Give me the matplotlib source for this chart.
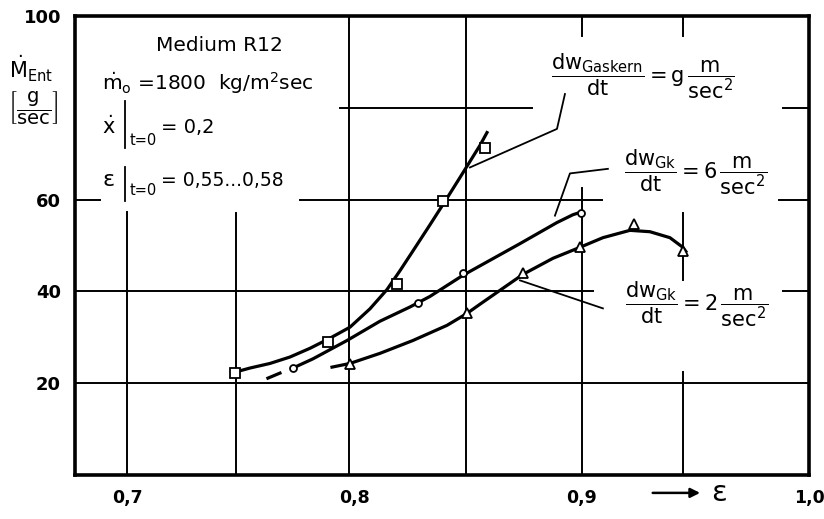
import numpy as np
import matplotlib.pyplot as plt

plt.rcParams['font.family'] = 'DejaVu Sans'
plt.rcParams['mathtext.fontset'] = 'dejavusans'
plt.rcParams['mathtext.default'] = 'regular'

# measured points: void fraction eps vs. entrained mass flow (g/sec)
eps_g = [0.7474, 0.7883, 0.8187, 0.8389, 0.8574]
m_g = [22.2, 28.9, 41.7, 59.8, 71.3]
eps_6 = [0.7729, 0.8279, 0.8477, 0.8996]
m_6 = [23.3, 37.4, 43.9, 57.0]
eps_2 = [0.7980, 0.8495, 0.8741, 0.8992, 0.9230, 0.9445]
m_2 = [24.1, 35.4, 44.1, 49.6, 54.6, 48.9]

# hand-drawn fit curves through the points
curve_g_eps = [0.7474, 0.7540, 0.7628, 0.7716, 0.7804, 0.7892, 0.7980, 0.8068, 0.8143,
               0.8200, 0.8257, 0.8332, 0.8407, 0.8464, 0.8508, 0.8552, 0.8583]
curve_g_m = [22.4, 23.3, 24.3, 25.7, 27.6, 29.8, 32.2, 36.2, 40.4,
             44.5, 48.8, 54.5, 60.3, 64.8, 68.3, 71.8, 74.6]
curve_6_eps = [0.7619, 0.7672, np.nan, 0.7729, 0.7817, 0.7967, 0.8112, 0.8244,
               0.8332, 0.8477, 0.8728, 0.8891, 0.8961, 0.8992]
curve_6_m = [21.1, 22.2, np.nan, 23.3, 25.3, 29.3, 33.5, 36.6,
             38.9, 43.5, 50.4, 55.0, 56.7, 57.2]
curve_2_eps = [0.7901, 0.7980, 0.8112, 0.8257, 0.8407, 0.8495, 0.8552, 0.8741, 0.8873,
               0.8992, 0.9093, 0.9212, 0.9300, 0.9388, 0.9445, 0.9458]
curve_2_m = [23.5, 24.3, 26.5, 29.3, 32.6, 35.2, 37.2, 43.7, 47.2,
             49.6, 51.7, 53.3, 53.0, 51.7, 49.6, 48.7]

xticks = [0.7, 0.8, 0.9, 1.0]
xlabels = ['0,7', '0,8', '0,9', '1,0']
yticks = [20, 40, 60, 100]
ylabels = ['20', '40', '60', '100']

fig = plt.figure(figsize=(8.24, 5.19), dpi=100)
ax = fig.add_axes([0.091, 0.0848, 0.8908, 0.8844])
ax.set_xlim(0.677, 1.0)
ax.set_ylim(0, 100)

# broken grid lines (interrupted where the labels sit)
hsegs = [(20, 0.677, 1.0),
         (40, 0.677, 0.905), (40, 0.9885, 1.0),
         (60, 0.677, 0.688), (60, 0.776, 0.909), (60, 0.987, 1.0),
         (80, 0.7936, 0.878), (80, 0.9885, 1.0)]
vsegs = [(0.7, 0, 57.2), (0.748, 0, 57.0), (0.7975, 0, 100), (0.849, 0, 100),
         (0.9, 0, 62.6), (0.9, 95.7, 100),
         (0.9445, 0, 22.4), (0.9445, 42.4, 57.0), (0.9445, 95.7, 100)]
for y, x0, x1 in hsegs:
    ax.plot([x0, x1], [y, y], color='black', lw=1.4, zorder=1)
for x, y0, y1 in vsegs:
    ax.plot([x, x], [y0, y1], color='black', lw=1.4, zorder=1)

ax.plot(curve_g_eps, curve_g_m, color='black', lw=2.3, zorder=3)
ax.plot(curve_6_eps, curve_6_m, color='black', lw=2.3, zorder=3)
ax.plot(curve_2_eps, curve_2_m, color='black', lw=2.3, zorder=3)

ax.plot(eps_g, m_g, 's', ms=6.5, mfc='white', mec='black', mew=1.3, zorder=4)
ax.plot(eps_6, m_6, 'o', ms=5, mfc='white', mec='black', mew=1.3, zorder=4)
ax.plot(eps_2, m_2, '^', ms=7.5, mfc='white', mec='black', mew=1.3, zorder=4)

# leader lines to the curve labels
ax.plot([0.8508, 0.8891, 0.8926], [67.0, 75.4, 83.0], color='black', lw=1.3, zorder=2)
ax.plot([0.8882, 0.8948, 0.9115], [56.5, 65.7, 66.7], color='black', lw=1.3, zorder=2)
ax.plot([0.8728, 0.9093], [42.4, 36.3], color='black', lw=1.3, zorder=2)

ax.text(0.9269, 87.0, r'$\dfrac{dw_{Gaskern}}{dt} = g\,\dfrac{m}{sec^2}$',
        fontsize=15, ha='center', va='center')
ax.text(0.9502, 65.9, r'$\dfrac{dw_{Gk}}{dt} = 6\,\dfrac{m}{sec^2}$',
        fontsize=15, ha='center', va='center')
ax.text(0.9506, 37.2, r'$\dfrac{dw_{Gk}}{dt} = 2\,\dfrac{m}{sec^2}$',
        fontsize=15, ha='center', va='center')

# operating conditions
ax.text(0.7404, 93.5, 'Medium R12', fontsize=14.5, ha='center', va='center')
ax.text(0.6889, 85.4, r'$\dot{m}_o$ =1800  kg/m$^2$sec', fontsize=14.5, ha='left', va='center')

ax.text(0.6889, 76.0, r'$\dot{x}$', fontsize=15, ha='left', va='center')
ax.plot([0.699, 0.699], [71.3, 81.5], color='black', lw=1.3)
ax.text(0.7010, 72.8, 't=0', fontsize=10.5, ha='left', va='center')
ax.text(0.7150, 75.7, '= 0,2', fontsize=14, ha='left', va='center')

ax.text(0.6889, 64.3, r'$\varepsilon$', fontsize=16, ha='left', va='center')
ax.plot([0.699, 0.699], [59.8, 67.2], color='black', lw=1.3)
ax.text(0.7010, 61.9, 't=0', fontsize=10.5, ha='left', va='center')
ax.text(0.7150, 64.1, '= 0,55...0,58', fontsize=13.5, ha='left', va='center')

ax.set_xticks(xticks)
ax.set_xticklabels(xlabels)
ax.set_yticks(yticks)
ax.set_yticklabels(ylabels)
ax.tick_params(axis='x', length=0, labelsize=12.5, pad=10)
ax.tick_params(axis='y', length=0, labelsize=13, pad=10)
for lab in ax.get_xticklabels() + ax.get_yticklabels():
    lab.set_fontweight('bold')
for sp in ax.spines.values():
    sp.set_linewidth(2.6)

ax.text(-0.0600, 0.885, r'$\dot{M}_{Ent}$', fontsize=15, ha='center', va='center',
        transform=ax.transAxes)
ax.text(-0.057, 0.80, r'$\left[\dfrac{g}{sec}\right]$', fontsize=14, ha='center', va='center',
        transform=ax.transAxes)

ax.annotate('', xy=(0.9533, -3.9), xytext=(0.930, -3.9), annotation_clip=False,
            arrowprops=dict(arrowstyle='-|>', color='black', lw=1.8, mutation_scale=14))
ax.text(0.9570, -3.9, r'$\varepsilon$', fontsize=21, ha='left', va='center', clip_on=False)

fig.savefig('out.png', dpi=100, facecolor='white')
